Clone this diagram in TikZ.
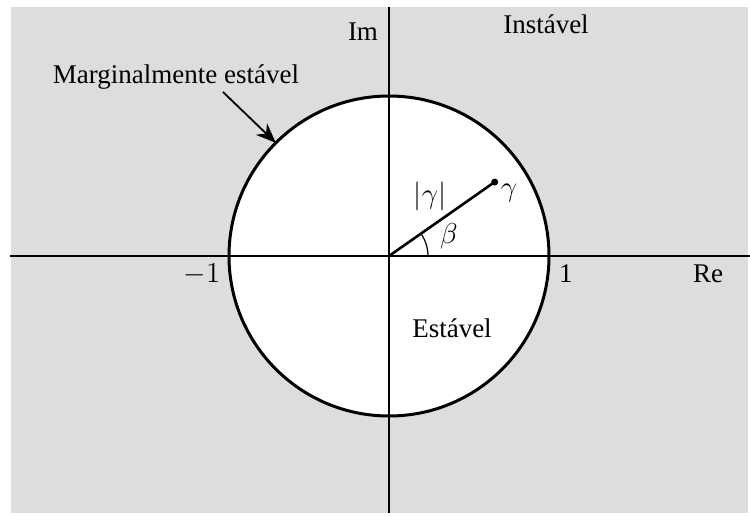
\documentclass[tikz,border=0pt]{standalone}
\usepackage{amsmath, amssymb}
\usepackage{fontspec}
\setmainfont{Liberation Serif}
\usepackage{tikz}
\usetikzlibrary{arrows.meta, calc, angles, quotes}
\definecolor{planegray}{HTML}{DDDDDD}

\begin{document}
\begin{tikzpicture}[x=0.5pt, y=0.5pt, >=Stealth,
    every node/.style={font=\fontsize{13.5}{16}\selectfont, inner sep=0pt}]
  \useasboundingbox (-389,-260) rectangle (361,256);
  \fill[planegray] (-378,-257) rectangle (359,249);

  \coordinate (O) at (0,0);
  \coordinate (L) at (-379,0);
  \coordinate (R) at (361,0);
  \coordinate (T) at (0,249);
  \coordinate (B) at (0,-257);
  \coordinate (G) at (35:129);
  \coordinate (X) at (100,0);

  \fill[white] (O) circle (160);
  \draw[line width=1pt] (L) -- (R);
  \draw[line width=1pt] (T) -- (B);
  \draw[line width=1.5pt] (O) circle (160);

  \draw[line width=1.3pt] (O) -- (G);
  \fill (G) circle (3.5);
  \draw[line width=0.6pt] pic[draw, angle radius=19.5pt] {angle = X--O--G};

  \node[anchor=base] (im) at (-26,216) {Im};
  \node[anchor=base] (instavel) at (157,223) {Instável};
  \node[anchor=base] (marg) at (-213,173) {Marginalmente estável};
  \node (modg) at (41,60) {$|\gamma|$};
  \node (g) at (120,63) {$\gamma$};
  \node (beta) at (60,20) {$\beta$};
  \node (m1) at (-187,-18) {$-1$};
  \node (p1) at (177,-18) {1};
  \node (re) at (319,-18) {Re};
  \node (estavel) at (63,-72) {Estável};

  \coordinate (Mt) at (135:160);
  \draw[->, line width=0.9pt, -{Stealth[length=10, width=8]}] (-166,164) -- (Mt);
\end{tikzpicture}
\end{document}
